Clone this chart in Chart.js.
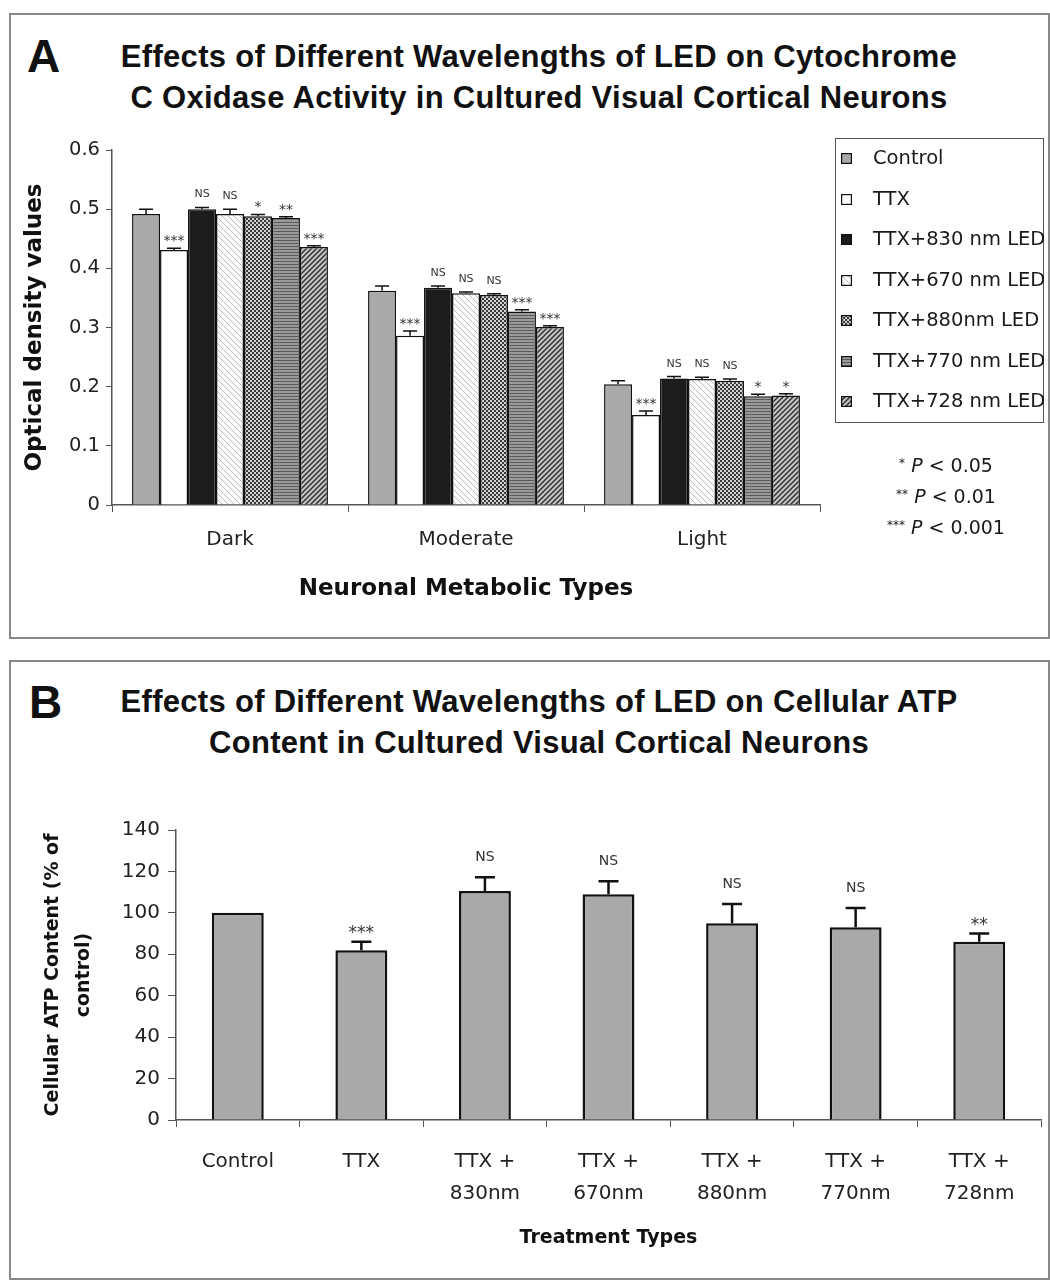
<!DOCTYPE html>
<html>
<head>
<meta charset="utf-8">
<script src="https://cdn.jsdelivr.net/npm/chart.js@4.4.1/dist/chart.umd.min.js"></script>
<style>
  body { margin: 0; background: #fff; width: 1050px; height: 1280px; position: relative; overflow: hidden; font-family: "DejaVu Sans", sans-serif; color: #1a1a1a; }
  .panel { position: absolute; left: 9px; width: 1037px; border: 2px solid #888; }
  .letter { position: absolute; font: bold 46px "Liberation Sans", Arial, sans-serif; color: #111; }
  .title { position: absolute; left: 89px; width: 900px; text-align: center; font: bold 31px/41px "Liberation Sans", Arial, sans-serif; letter-spacing: 0.3px; color: #111; }
  canvas.chart { position: absolute; left: 0; }
  #legendA { position: absolute; left: 835px; top: 138px; width: 209px; height: 285px; border: 1px solid #555; box-sizing: border-box; }
  .item { position: absolute; left: 5px; height: 24px; font-size: 19.5px; line-height: 24px; white-space: nowrap; }
  .item canvas { position: absolute; left: 0; top: 7px; }
  .item span { position: absolute; left: 32px; top: 0; }
  #pvals { position: absolute; left: 846px; top: 450px; width: 200px; text-align: center; font-size: 19px; line-height: 31px; }
  #pvals div { height: 31px; }
  #pvals sup { font-size: 12px; vertical-align: 5px; line-height: 0; }
</style>
</head>
<body>
<div class="panel" style="top:13px;height:622px"></div>
<div class="panel" style="top:660px;height:616px"></div>

<div class="letter" style="left:27px;top:29px">A</div>
<div class="title" style="top:36px">Effects of Different Wavelengths of LED on Cytochrome<br>C Oxidase Activity in Cultured Visual Cortical Neurons</div>
<div class="letter" style="left:29px;top:675px">B</div>
<div class="title" style="top:681px">Effects of Different Wavelengths of LED on Cellular ATP<br>Content in Cultured Visual Cortical Neurons</div>

<canvas id="chartA" class="chart" width="1050" height="645" style="top:0"></canvas>
<canvas id="chartB" class="chart" width="1050" height="635" style="top:645px"></canvas>

<div id="legendA"></div>
<div id="pvals"><div><sup>*</sup> <i>P</i> &lt; 0.05</div><div><sup>**</sup> <i>P</i> &lt; 0.01</div><div><sup>***</sup> <i>P</i> &lt; 0.001</div></div>

<script>
// ---- panel A data: optical density per metabolic type ----
const metabolicTypes = ["Dark", "Moderate", "Light"];
const seriesNames = ["Control", "TTX", "TTX+830 nm LED", "TTX+670 nm LED", "TTX+880nm LED", "TTX+770 nm LED", "TTX+728 nm LED"];

const odControl = [0.492, 0.362, 0.204];
const odTTX     = [0.431, 0.286, 0.152];
const od830     = [0.500, 0.367, 0.214];
const od670     = [0.492, 0.358, 0.213];
const od880     = [0.488, 0.355, 0.210];
const od770     = [0.485, 0.327, 0.184];
const od728     = [0.436, 0.301, 0.185];

const errControl = [0.008, 0.008, 0.006];
const errTTX     = [0.003, 0.008, 0.007];
const err830     = [0.003, 0.003, 0.003];
const err670     = [0.008, 0.002, 0.003];
const err880     = [0.003, 0.002, 0.003];
const err770     = [0.002, 0.003, 0.003];
const err728     = [0.002, 0.002, 0.003];

const sigControl = ["", "", ""];
const sigTTX     = ["***", "***", "***"];
const sig830     = ["NS", "NS", "NS"];
const sig670     = ["NS", "NS", "NS"];
const sig880     = ["*", "NS", "NS"];
const sig770     = ["**", "***", "*"];
const sig728     = ["***", "***", "*"];

const odTicks = [0, 0.1, 0.2, 0.3, 0.4, 0.5, 0.6];

// ---- panel B data: ATP content, % of control ----
const treatmentTypes = [["Control"], ["TTX"], ["TTX +", "830nm"], ["TTX +", "670nm"], ["TTX +", "880nm"], ["TTX +", "770nm"], ["TTX +", "728nm"]];
const atpValues = [100, 82, 110.5, 109, 95, 93, 86];
const atpErrors = [0, 4, 6.7, 6.3, 9.3, 9.3, 4];
const atpSig    = ["", "***", "NS", "NS", "NS", "NS", "**"];

Chart.defaults.font.family = "'DejaVu Sans', sans-serif";
Chart.defaults.color = "#1a1a1a";

// fill patterns (670 light hatch, 880 checker, 770 stripes, 728 dark hatch)
function makePattern(ctx, kind) {
  const c = document.createElement("canvas");
  const g = c.getContext("2d");
  if (kind === "gray") return "#a9a9a9";
  if (kind === "white") return "#ffffff";
  if (kind === "black") return "#1c1c1c";
  if (kind === "hatchLight") {
    c.width = c.height = 6;
    g.fillStyle = "#fdfdfd"; g.fillRect(0, 0, 6, 6);
    g.strokeStyle = "#bdbdbd"; g.lineWidth = 1;
    g.beginPath(); g.moveTo(-1, -1); g.lineTo(7, 7); g.stroke();
  } else if (kind === "checker") {
    c.width = c.height = 4;
    g.fillStyle = "#d0d0d0"; g.fillRect(0, 0, 4, 4);
    g.fillStyle = "#3a3a3a"; g.fillRect(0, 0, 2, 2); g.fillRect(2, 2, 2, 2);
  } else if (kind === "hlines") {
    c.width = 4; c.height = 3;
    g.fillStyle = "#9a9a9a"; g.fillRect(0, 0, 4, 3);
    g.fillStyle = "#5c5c5c"; g.fillRect(0, 0, 4, 1);
  } else if (kind === "hatchDark") {
    c.width = c.height = 5;
    g.fillStyle = "#c4c4c4"; g.fillRect(0, 0, 5, 5);
    g.strokeStyle = "#2e2e2e"; g.lineWidth = 1.4;
    g.beginPath(); g.moveTo(-1, 6); g.lineTo(6, -1); g.stroke();
    g.beginPath(); g.moveTo(-1, 1); g.lineTo(1, -1); g.stroke();
    g.beginPath(); g.moveTo(4, 6); g.lineTo(6, 4); g.stroke();
  }
  return ctx.createPattern(c, "repeat");
}

const fills = ["gray", "white", "black", "hatchLight", "checker", "hlines", "hatchDark"];

// error bars + significance marks drawn above each bar
const errorBars = {
  id: "errorBars",
  afterDatasetsDraw(chart, args, opts) {
    const ctx = chart.ctx;
    const y = chart.scales.y;
    ctx.save();
    chart.data.datasets.forEach((ds, i) => {
      chart.getDatasetMeta(i).data.forEach((bar, j) => {
        const err = ds.errors[j];
        const top = y.getPixelForValue(ds.data[j] + err);
        if (err > 0) {
          ctx.strokeStyle = "#111";
          ctx.lineWidth = opts.lineWidth;
          ctx.beginPath();
          ctx.moveTo(bar.x, bar.y);
          ctx.lineTo(bar.x, top);
          ctx.moveTo(bar.x - opts.cap / 2, top);
          ctx.lineTo(bar.x + opts.cap / 2, top);
          ctx.stroke();
        }
        const mark = ds.marks[j];
        if (mark) {
          const isNS = mark === "NS";
          ctx.fillStyle = "#333";
          ctx.textAlign = "center";
          ctx.textBaseline = "alphabetic";
          ctx.font = (isNS ? opts.nsSize : opts.starSize) + "px 'DejaVu Sans', sans-serif";
          ctx.fillText(mark, bar.x, top - (isNS ? opts.nsGap : opts.starGap));
        }
      });
    });
    ctx.restore();
  }
};

// ---- chart A ----
const ctxA = document.getElementById("chartA").getContext("2d");
const odSeries = [odControl, odTTX, od830, od670, od880, od770, od728];
const odErr = [errControl, errTTX, err830, err670, err880, err770, err728];
const odSig = [sigControl, sigTTX, sig830, sig670, sig880, sig770, sig728];

new Chart(ctxA, {
  type: "bar",
  data: {
    labels: metabolicTypes,
    datasets: seriesNames.map((name, i) => ({
      label: name,
      data: odSeries[i],
      errors: odErr[i],
      marks: odSig[i],
      backgroundColor: makePattern(ctxA, fills[i]),
      borderColor: "#111",
      borderWidth: 1.5,
      categoryPercentage: 0.83,
      barPercentage: 1
    }))
  },
  options: {
    responsive: false,
    animation: false,
    events: [],
    layout: { padding: { left: 21, right: 230, top: 150, bottom: 40 } },
    plugins: {
      legend: { display: false },
      tooltip: { enabled: false },
      errorBars: { cap: 14, lineWidth: 1.5, nsSize: 11, starSize: 14, nsGap: 10, starGap: 3 }
    },
    scales: {
      x: {
        grid: { drawOnChartArea: false, tickLength: 7, color: "#555", offset: true },
        border: { color: "#555", width: 1.5 },
        ticks: { font: { size: 20 }, padding: 16, color: "#222" },
        title: { display: true, text: "Neuronal Metabolic Types", color: "#111", font: { size: 23, weight: "bold" }, padding: { top: 0, bottom: 2 } },
        afterFit: s => { s.height = 100; }
      },
      y: {
        min: 0, max: 0.6,
        afterBuildTicks: s => { s.ticks = odTicks.map(v => ({ value: v })); },
        grid: { drawOnChartArea: false, tickLength: 6, color: "#555" },
        border: { color: "#555", width: 1.5 },
        ticks: { font: { size: 19.5 }, padding: 6, color: "#222", callback: v => String(Math.round(v * 10) / 10) },
        title: { display: true, text: "Optical density values", color: "#111", font: { size: 23, weight: "bold" }, padding: { top: 0, bottom: 0 } },
        afterFit: s => { s.width = 91; }
      }
    }
  },
  plugins: [errorBars]
});

// legend for A (swatches use the same fills)
const legend = document.getElementById("legendA");
seriesNames.forEach((name, i) => {
  const item = document.createElement("div");
  item.className = "item";
  item.style.top = (7 + i * 40.5) + "px";
  const sw = document.createElement("canvas");
  sw.width = 11; sw.height = 11;
  const g = sw.getContext("2d");
  g.fillStyle = makePattern(g, fills[i]);
  g.fillRect(0, 0, 11, 11);
  g.strokeStyle = "#111"; g.lineWidth = 1.2;
  g.strokeRect(0.6, 0.6, 9.8, 9.8);
  const t = document.createElement("span");
  t.textContent = name;
  item.appendChild(sw);
  item.appendChild(t);
  legend.appendChild(item);
});

// ---- chart B ----
const ctxB = document.getElementById("chartB").getContext("2d");
new Chart(ctxB, {
  type: "bar",
  data: {
    labels: treatmentTypes,
    datasets: [{
      label: "Cellular ATP Content",
      data: atpValues,
      errors: atpErrors,
      marks: atpSig,
      backgroundColor: "#a9a9a9",
      borderColor: "#111",
      borderWidth: 2.5,
      categoryPercentage: 0.42,
      barPercentage: 1
    }]
  },
  options: {
    responsive: false,
    animation: false,
    events: [],
    layout: { padding: { left: 37.5, right: 9, top: 185, bottom: 20 } },
    plugins: {
      legend: { display: false },
      tooltip: { enabled: false },
      errorBars: { cap: 20, lineWidth: 2.5, nsSize: 14, starSize: 17, nsGap: 16, starGap: 4 }
    },
    scales: {
      x: {
        grid: { drawOnChartArea: false, tickLength: 7, color: "#555", offset: true },
        border: { color: "#555", width: 1.5 },
        ticks: { font: { size: 20, lineHeight: 1.6 }, padding: 19, color: "#222" },
        title: { display: true, text: "Treatment Types", color: "#111", font: { size: 19, weight: "bold" }, padding: { top: 0, bottom: 11 } },
        afterFit: s => { s.height = 140; }
      },
      y: {
        min: 0, max: 140,
        ticks: { stepSize: 20, font: { size: 20 }, padding: 8, color: "#222" },
        grid: { drawOnChartArea: false, tickLength: 8, color: "#555" },
        border: { color: "#555", width: 1.5 },
        title: { display: true, text: ["Cellular ATP Content (% of", "control)"], color: "#111", font: { size: 19, weight: "bold", lineHeight: 1.632 }, padding: { top: 0, bottom: 0 } },
        afterFit: s => { s.width = 138.5; }
      }
    }
  },
  plugins: [errorBars]
});
</script>
</body>
</html>
